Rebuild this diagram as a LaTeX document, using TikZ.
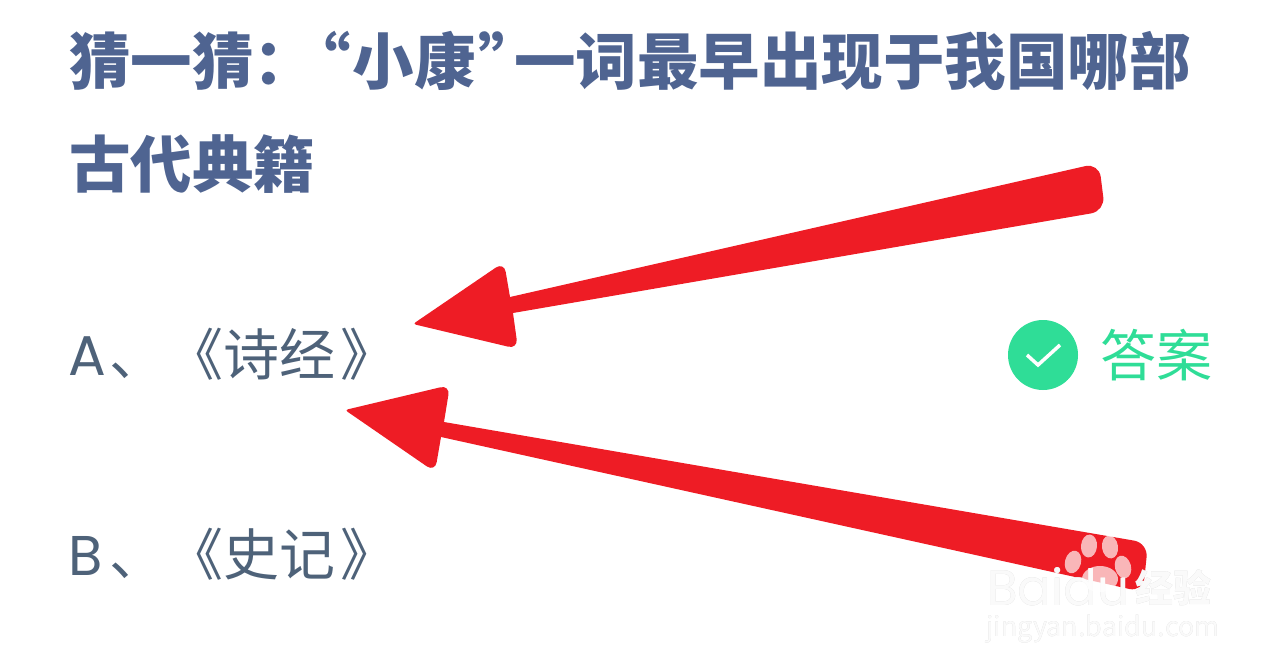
\documentclass[tikz,border=0pt]{standalone}
\usepackage{fontspec}
\usepackage{xcolor}
\usepackage[outline]{contour}
\setmainfont{Noto Sans CJK SC}
\newfontfamily\latinopt{Poppins}
\usetikzlibrary{calc,shapes.geometric}
\definecolor{titleblue}{HTML}{4F6491}
\definecolor{optgray}{HTML}{4E6279}
\definecolor{ansgreen}{HTML}{2FDD97}
\definecolor{arrowred}{HTML}{EE1C25}
\definecolor{wmgray}{HTML}{C8C8C8}
\tikzstyle{titleline} = [anchor=west, inner sep=0pt, text=titleblue, font=\fontsize{61.5}{62}\selectfont\bfseries]
\tikzstyle{option} = [anchor=base west, inner sep=0pt, text=optgray, font=\fontsize{56}{58}\selectfont]
\tikzstyle{bigarrow} = [fill=arrowred]
\tikzstyle{toe} = [fill=white, fill opacity=0.68, draw=none, ellipse, minimum width=16pt, minimum height=23pt, inner sep=0pt]
\tikzstyle{plain} = [inner sep=0pt, anchor=west]
\tikzstyle{wmark} = [inner sep=0pt, anchor=base west, opacity=0.9]
\contourlength{1.2pt}
\newcommand{\wmtext}[1]{\smash{\contour{wmgray}{\textcolor{white}{#1}}}}
\newcommand{\optletter}[1]{{\latinopt\fontsize{56}{58}\selectfont\makebox[41pt][l]{#1}}}

\begin{document}
\begin{tikzpicture}[x=1pt, y=-1pt]
  \useasboundingbox (0,0) rectangle (1284,671);

  % question
  \node[titleline] (line1) at (69,61) {猜一猜：\kern-26pt“\kern2pt小康\kern3pt”\kern-26pt一词最早出现于我国哪部};
  \node[titleline] (line2) at (69,164) {古代典籍};

  % options
  \node[option] (optA) at (68,375) {\optletter{A}、\kern2pt《诗经\kern5pt》};
  \node[option] (optB) at (68,575) {\optletter{B}、\kern2pt《史记\kern5pt》};

  % answer mark
  \node[circle, fill=ansgreen, minimum size=70pt, inner sep=0pt] (tick) at (1043,355) {};
  \coordinate (t1) at ($(tick)+(-16,0)$);
  \coordinate (t2) at ($(tick)+(-5,10)$);
  \coordinate (t3) at ($(tick)+(17,-10)$);
  \draw[white, line width=3.5pt] (t1) -- (t2) -- (t3);
  \node[plain, text=ansgreen, font=\fontsize{56}{58}\selectfont] (answer) at (1100,355) {答案};

  % upper arrow
  \coordinate (headA) at (413,324);
  \fill[bigarrow] (510,297) [rounded corners=14pt] -- (1099,163) -- (1105,211) [sharp corners] -- (513,313)
    [rounded corners=10pt] -- (518,349) [rounded corners=3pt] -- (headA) [rounded corners=10pt] -- (504,262) [sharp corners] -- cycle;

  % lower arrow
  \coordinate (headB) at (345,410);
  \fill[bigarrow] (444,422) [rounded corners=14pt] -- (1148,543) -- (1143,592) [sharp corners] -- (441,437)
    [rounded corners=10pt] -- (435,472) [rounded corners=3pt] -- (headB) [rounded corners=10pt] -- (450,385) [sharp corners] -- cycle;

  % watermark
  \node[wmark, font=\fontsize{50}{52}\selectfont\latinopt] (wmA) at (987,605) {\wmtext{Baidu}};
  \node[wmark, font=\fontsize{38}{40}\selectfont\bfseries] (wmB) at (1135,602) {\wmtext{经验}};
  \node[wmark, font=\fontsize{27}{29}\selectfont] (wmC) at (986,636) {\wmtext{jingyan.baidu.com}};

  % paw on the lower arrow
  \node[toe, rotate=-5] (toe1) at (1089,546) {};
  \node[toe, rotate=8] (toe2) at (1110,547) {};
  \node[toe, rotate=-15] (toe3) at (1073,562) {};
  \node[toe, rotate=15] (toe4) at (1123,567) {};
  \node[toe, minimum width=36pt, minimum height=26pt] (pad) at (1100,579) {};
\end{tikzpicture}
\end{document}
